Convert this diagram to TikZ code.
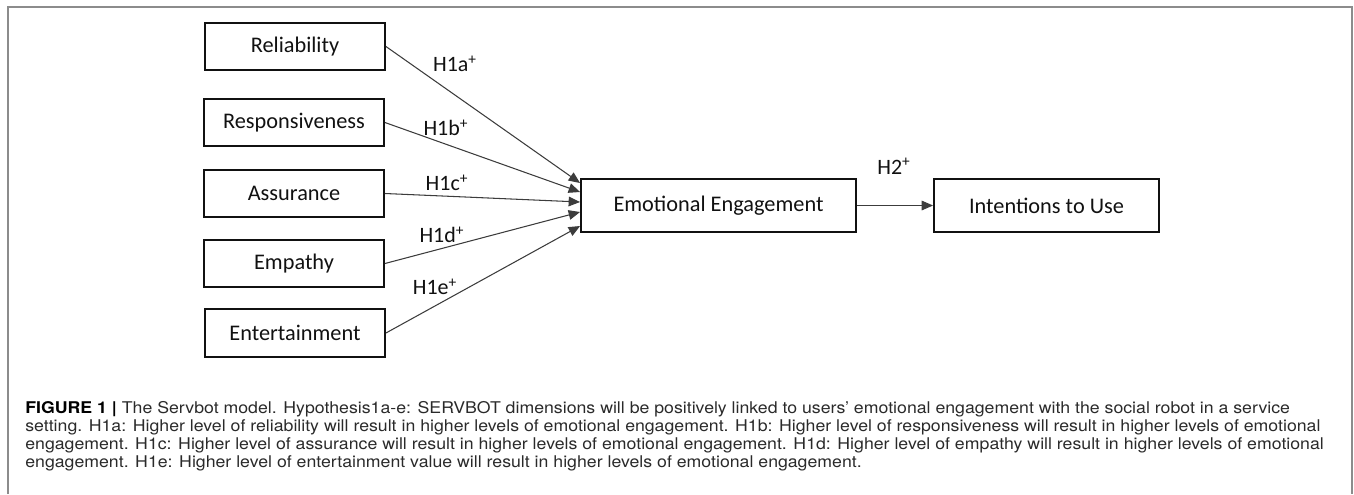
\documentclass[tikz,border=0pt]{standalone}
\usepackage{fontspec}
\setmainfont{Carlito}
\newfontfamily\capfont[FakeStretch=1.096]{TeX Gyre Heros}
\usetikzlibrary{arrows.meta,positioning}
\definecolor{Ink}{HTML}{111111}
\definecolor{Frame}{HTML}{8C8C8C}
\definecolor{Wire}{HTML}{3C3C3C}
\definecolor{CapText}{HTML}{2A2A2A}

\begin{document}
\begin{tikzpicture}[
  x=0.02cm,y=-0.02cm,
  font=\fontsize{12.7}{15}\selectfont,
  dim/.style={draw=Ink, line width=1.1pt, text=Ink, inner sep=0pt, minimum width=3.6cm, minimum height=0.95cm},
  outcome/.style={draw=Ink, line width=1.1pt, text=Ink, inner sep=0pt, minimum height=1.06cm},
  hyp/.style={inner sep=0pt, text=Ink, font=\fontsize{12.5}{15}\selectfont},
  caption/.style={inner sep=0pt, align=left, text=CapText, font=\capfont\fontsize{9.2}{10.2}\selectfont},
  arr/.style={-{Triangle[length=6.5pt,width=5.5pt]}, line width=0.6pt, draw=Wire}
]
  \useasboundingbox (0,0) rectangle (1354,494);
  \draw[Frame, line width=0.6pt] (8,494) |- (1352,7) -- (1352,494);

  % servbot dimensions
  \node[dim] (rel) at (295,46.5) {Reliability};
  \node[dim] (resp) at (294,122.5) {Responsiveness};
  \node[dim] (assur) at (294,193.5) {Assurance};
  \node[dim] (emp) at (294,263.5) {Empathy};
  \node[dim] (ent) at (295,333) {Entertainment};

  % outcomes
  \node[outcome, minimum width=5.5cm] (emo) at (718.5,205.5) {Emotional Engagement};
  \node[outcome, minimum width=4.5cm] (use) at (1046.5,205.5) {Intentions to Use};

  \draw[arr] (rel.east) -- ([yshift=0.45cm]emo.west);
  \draw[arr] (resp.east) -- ([yshift=0.27cm]emo.west);
  \draw[arr] (assur.east) -- ([yshift=0.07cm]emo.west);
  \draw[arr] (emp.east) -- ([yshift=-0.13cm]emo.west);
  \draw[arr] (ent.east) -- ([yshift=-0.41cm]emo.west);
  \draw[arr] (emo.east) -- (use.west);

  \node[hyp] (h1a) at (455,64) {H1a\textsuperscript{+}};
  \node[hyp] (h1b) at (446,128) {H1b\textsuperscript{+}};
  \node[hyp] (h1c) at (447,183) {H1c\textsuperscript{+}};
  \node[hyp] (h1d) at (442,235) {H1d\textsuperscript{+}};
  \node[hyp] (h1e) at (435,287) {H1e\textsuperscript{+}};
  \node[hyp] (h2) at (894,166) {H2\textsuperscript{+}};

  \node[caption, anchor=north west] (cap) at (25,401) {\textcolor{black}{\bfseries FIGURE 1 |} The Servbot model. Hypothesis1a-e: SERVBOT dimensions will be positively linked to users’ emotional engagement with the social robot in a service\\
  setting. H1a: Higher level of reliability will result in higher levels of emotional engagement. H1b: Higher level of responsiveness will result in higher levels of emotional\\
  engagement. H1c: Higher level of assurance will result in higher levels of emotional engagement. H1d: Higher level of empathy will result in higher levels of emotional\\
  engagement. H1e: Higher level of entertainment value will result in higher levels of emotional engagement.};
\end{tikzpicture}
\end{document}
